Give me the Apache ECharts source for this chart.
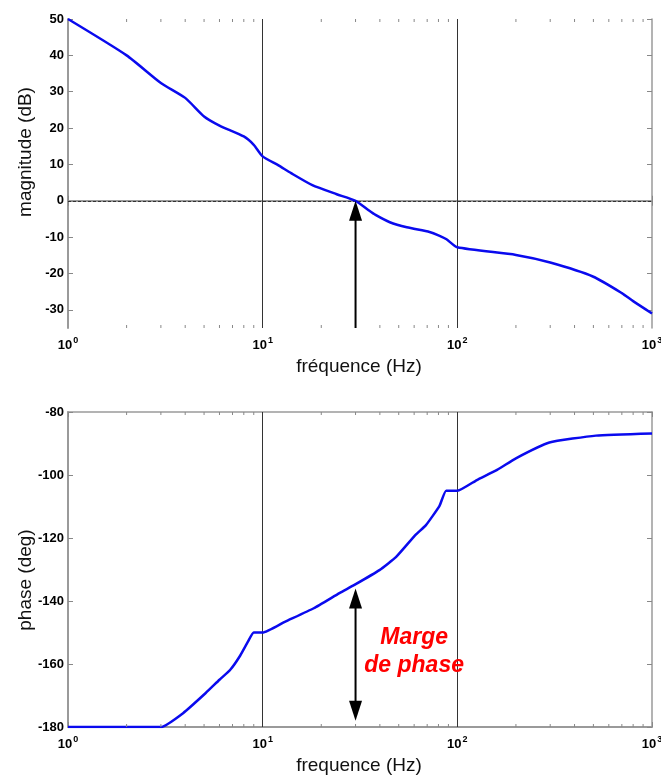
<!DOCTYPE html>
<html>
<head>
<meta charset="utf-8">
<script src="https://cdn.jsdelivr.net/npm/echarts@6/dist/echarts.min.js"></script>
<style>
  html, body { margin: 0; padding: 0; background: #fff; }
  #chart { width: 661px; height: 778px; }
</style>
</head>
<body>
<div id="chart"></div>
<script>
// gain curve
const magFreq = [1, 2, 3, 4, 5, 6, 8, 9, 10, 12, 14, 18, 24, 30, 35, 38, 45, 55, 72, 80, 88, 100, 200, 300, 500, 700, 800, 1000];
const magDb = [50, 40, 32.4, 28.3, 23.2, 20.7, 17.7, 15.4, 12.2, 9.8, 7.6, 4.3, 1.8, 0, -2.6, -3.9, -5.9, -7.3, -8.6, -9.5, -10.6, -12.8, -14.9, -17, -20.9, -25.4, -27.6, -31];
// phase curve
const phaseFreq = [1, 3, 3.9, 5.1, 6, 6.8, 7.6, 8.4, 9, 10, 13, 18.3, 24.8, 29.6, 39.8, 48.5, 61, 69, 81, 87.6, 100, 126, 160, 200, 297, 515, 1000];
const phaseDeg = [-180, -180, -175.6, -169.2, -165, -161.9, -157.7, -152.9, -150, -150, -146.6, -142.3, -137.5, -134.9, -130.2, -126, -119, -115.9, -109.8, -105, -105, -101.6, -98.4, -94.7, -89.7, -87.5, -86.8];

const magTicks = [-30, -20, -10, 0, 10, 20, 30, 40, 50];
const phaseTicks = [-180, -160, -140, -120, -100, -80];
const minorFreq = [2, 3, 4, 5, 6, 7, 8, 9, 20, 30, 40, 50, 60, 70, 80, 90, 200, 300, 400, 500, 600, 700, 800, 900];
const decades = [10, 100];

// annotations: [freq, from, to]
const gainArrow = [30, -35, 0];
const phaseArrow = [30, -178, -136];
const marginText = [60, -156];

const FONT = '"Liberation Sans", Arial, sans-serif';
const BLUE = '#0a0aee';
const AXIS_GREY = '#9a9a9a';

function xAxisFor(grid, pos) {
  const main = pos === 'bottom';
  return {
    type: 'log', logBase: 10, min: 1, max: 1000, gridIndex: grid, position: pos,
    axisLine: { show: true, lineStyle: { color: AXIS_GREY, width: main ? 2 : 1.5 } },
    axisTick: { show: true, inside: true, length: 5, lineStyle: { color: '#888' } },
    splitLine: { show: false },
    axisLabel: {
      show: main, margin: 8,
      formatter: v => '{b|10}{s|' + Math.round(Math.log10(v)) + '}',
      rich: {
        b: { fontSize: 13, fontWeight: 'bold', fontFamily: FONT, color: '#000', lineHeight: 18 },
        s: { fontSize: 9, fontWeight: 'bold', fontFamily: FONT, color: '#000', lineHeight: 9, verticalAlign: 'top', padding: [0, 0, 0, 1] }
      }
    }
  };
}

function yAxisFor(grid, pos, min, max, ticks) {
  const main = pos === 'left';
  return {
    type: 'value', gridIndex: grid, position: pos, min: min, max: max,
    axisLine: { show: true, lineStyle: { color: AXIS_GREY, width: main ? 2 : 1.5 } },
    axisTick: { show: true, inside: true, length: 5, customValues: ticks, lineStyle: { color: '#888' } },
    splitLine: { show: false },
    axisLabel: {
      show: main, margin: 4, customValues: ticks,
      fontSize: 13, fontWeight: 'bold', fontFamily: FONT, color: '#000'
    }
  };
}

function minorTickItem(params, api) {
  const cs = params.coordSys;
  const x = api.coord([api.value(0), 0])[0];
  const bottom = cs.y + cs.height;
  return {
    type: 'group',
    children: [
      { type: 'line', shape: { x1: x, y1: bottom, x2: x, y2: bottom - 3 }, style: { stroke: '#888', lineWidth: 1 } },
      { type: 'line', shape: { x1: x, y1: cs.y, x2: x, y2: cs.y + 3 }, style: { stroke: '#888', lineWidth: 1 } }
    ]
  };
}

function head(tip, dir) {
  // dir = -1 : points up, 1 : points down
  const w = 6.5, h = 20;
  return {
    type: 'polygon',
    shape: { points: [[tip[0], tip[1]], [tip[0] - w, tip[1] - dir * h], [tip[0] + w, tip[1] - dir * h]] },
    style: { fill: '#000' }
  };
}

function arrowRenderer(doubleHead) {
  return function (params, api) {
    const p0 = api.coord([api.value(0), api.value(1)]);
    const p1 = api.coord([api.value(0), api.value(2)]);
    const y0 = doubleHead ? p0[1] - 18 : p0[1];
    const children = [
      { type: 'line', shape: { x1: p0[0], y1: y0, x2: p1[0], y2: p1[1] + 18 }, style: { stroke: '#000', lineWidth: 2 } },
      head(p1, -1)
    ];
    if (doubleHead) children.push(head(p0, 1));
    return { type: 'group', children: children };
  };
}

function textItem(params, api) {
  const p = api.coord([api.value(0), api.value(1)]);
  return {
    type: 'text', x: p[0], y: p[1],
    style: {
      text: 'Marge\nde phase', fill: '#ff0000',
      font: 'italic bold 23px ' + FONT, fontStyle: 'italic', fontWeight: 'bold', fontSize: 23, fontFamily: FONT,
      align: 'center', verticalAlign: 'middle', lineHeight: 28
    }
  };
}

const vLines = decades.map(d => ({ xAxis: d, lineStyle: { color: '#333', width: 1, type: 'solid' } }));

const option = {
  animation: false,
  backgroundColor: '#fff',
  grid: [
    { left: 68, top: 19, width: 584, height: 309, containLabel: false, outerBoundsMode: 'none' },
    { left: 68, top: 412, width: 584, height: 315, containLabel: false, outerBoundsMode: 'none' }
  ],
  xAxis: [xAxisFor(0, 'bottom'), xAxisFor(0, 'top'), xAxisFor(1, 'bottom'), xAxisFor(1, 'top')],
  yAxis: [
    yAxisFor(0, 'left', -35, 50, magTicks), yAxisFor(0, 'right', -35, 50, magTicks),
    yAxisFor(1, 'left', -180, -80, phaseTicks), yAxisFor(1, 'right', -180, -80, phaseTicks)
  ],
  graphic: [
    { type: 'text', x: 26, y: 152, rotation: Math.PI / 2, style: { text: 'magnitude (dB)', font: '19px ' + FONT, fill: '#111', align: 'center', verticalAlign: 'middle' } },
    { type: 'text', x: 26, y: 580, rotation: Math.PI / 2, style: { text: 'phase (deg)', font: '19px ' + FONT, fill: '#111', align: 'center', verticalAlign: 'middle' } },
    { type: 'text', x: 359, y: 367, style: { text: 'fréquence (Hz)', font: '19px ' + FONT, fill: '#111', align: 'center', verticalAlign: 'middle' } },
    { type: 'text', x: 359, y: 766, style: { text: 'frequence (Hz)', font: '19px ' + FONT, fill: '#111', align: 'center', verticalAlign: 'middle' } }
  ],
  series: [
    {
      type: 'line', xAxisIndex: 0, yAxisIndex: 0, symbol: 'none', z: 5, smooth: 0.2,
      data: magFreq.map((f, i) => [f, magDb[i]]),
      lineStyle: { color: BLUE, width: 2.5 },
      markLine: {
        silent: true, symbol: 'none', label: { show: false },
        data: [{ yAxis: 0, lineStyle: { color: '#333', width: 1, type: [3, 2] } }].concat(vLines)
      }
    },
    {
      type: 'line', xAxisIndex: 2, yAxisIndex: 2, symbol: 'none', z: 5, smooth: 0.15,
      data: phaseFreq.map((f, i) => [f, phaseDeg[i]]),
      lineStyle: { color: BLUE, width: 2.5 },
      markLine: { silent: true, symbol: 'none', label: { show: false }, data: vLines }
    },
    { type: 'custom', xAxisIndex: 0, yAxisIndex: 0, silent: true, z: 6, renderItem: minorTickItem, encode: { x: 0 }, data: minorFreq.map(v => [v]) },
    { type: 'custom', xAxisIndex: 2, yAxisIndex: 2, silent: true, z: 6, renderItem: minorTickItem, encode: { x: 0 }, data: minorFreq.map(v => [v]) },
    { type: 'custom', xAxisIndex: 0, yAxisIndex: 0, silent: true, z: 7, clip: false, renderItem: arrowRenderer(false), data: [gainArrow] },
    { type: 'custom', xAxisIndex: 2, yAxisIndex: 2, silent: true, z: 7, clip: false, renderItem: arrowRenderer(true), data: [phaseArrow] },
    { type: 'custom', xAxisIndex: 2, yAxisIndex: 2, silent: true, z: 8, clip: false, renderItem: textItem, data: [marginText] }
  ]
};

const chart = echarts.init(document.getElementById('chart'), null, { renderer: 'canvas' });
chart.setOption(option);
</script>
</body>
</html>
